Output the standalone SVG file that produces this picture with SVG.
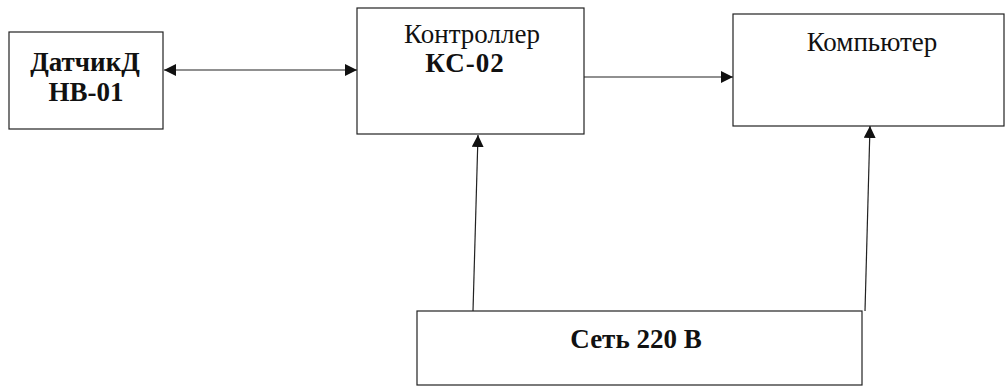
<svg xmlns="http://www.w3.org/2000/svg" width="1006" height="386" viewBox="0 0 1006 386">
<style>
.box{fill:#fff;stroke:#222;stroke-width:1.2}
.t{font-family:"Liberation Serif","Times New Roman",serif;font-size:27px;fill:#111;text-anchor:middle}
.b{font-weight:bold}
.c{fill:none;stroke:#222;stroke-width:1.2}
</style>
<defs>
<marker id="ah" viewBox="0 0 10 10" refX="10" refY="5" markerWidth="12" markerHeight="12" markerUnits="userSpaceOnUse" orient="auto-start-reverse">
<path d="M0,0 L10,5 L0,10 Z" fill="#111"/>
</marker>
</defs>
<rect width="1006" height="386" fill="#fff"/>
<g id="connectors">
<line class="c" x1="164" y1="70" x2="357" y2="70" marker-start="url(#ah)" marker-end="url(#ah)"/>
<line class="c" x1="584" y1="77" x2="733" y2="77" marker-end="url(#ah)"/>
<line class="c" x1="473" y1="311" x2="478" y2="135" marker-end="url(#ah)"/>
<line class="c" x1="865" y1="311" x2="870" y2="126" marker-end="url(#ah)"/>
</g>
<g id="sensor">
<rect class="box" x="9" y="32" width="154" height="97"/>
<text class="t b" x="85" y="71">ДатчикД</text>
<text class="t b" x="86" y="101">НВ-01</text>
</g>
<g id="controller">
<rect class="box" x="357" y="8" width="227" height="126"/>
<text class="t" x="472" y="43">Контроллер</text>
<text class="t b" x="465" y="72" letter-spacing="1">КС-02</text>
</g>
<g id="computer">
<rect class="box" x="733" y="14" width="271" height="112"/>
<text class="t" x="872" y="51">Компьютер</text>
</g>
<g id="power">
<rect class="box" x="417" y="311" width="445" height="74"/>
<text class="t b" x="636" y="348">Сеть 220 В</text>
</g>
</svg>
